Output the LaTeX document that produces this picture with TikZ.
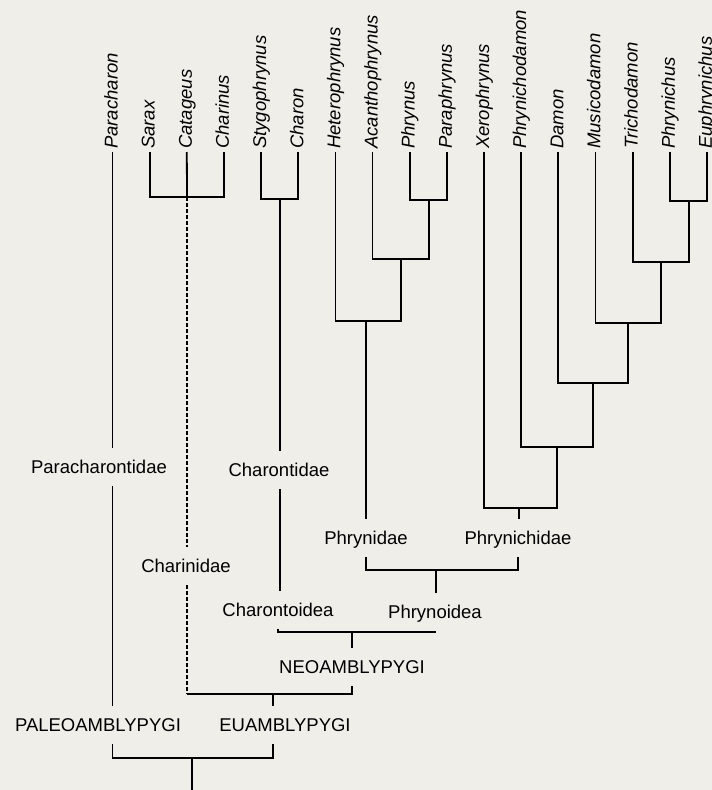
\documentclass[tikz,border=0pt]{standalone}
\usepackage{fontspec}
\setmainfont{Liberation Sans}
\usetikzlibrary{calc}
\definecolor{paper}{RGB}{239,238,233}
\tikzset{taxon/.style={rotate=90, anchor=west, inner sep=3pt, text height=13pt, text depth=3pt,
    font=\itshape\fontsize{18.5}{20}\selectfont},
  grp/.style={inner sep=0pt, text height=13.5pt, text depth=0pt, minimum height=38pt,
    font=\fontsize{18.5}{20}\selectfont},
  br/.style={line width=1.8pt},
  dsh/.style={line width=1.8pt, dash pattern=on 4pt off 2pt}}

\begin{document}
\begin{tikzpicture}[x=1pt, y=-1pt]
  \fill[paper] (0,0) rectangle (712,790);
  \useasboundingbox (0,0) rectangle (712,790);
  % genera
  \foreach \n [count=\i from 0] in {Paracharon,Sarax,Catageus,Charinus,Stygophrynus,Charon,
      Heterophrynus,Acanthophrynus,Phrynus,Paraphrynus,Xerophrynus,Phrynichodamon,
      Damon,Musicodamon,Trichodamon,Phrynichus,Euphrynichus}
    \node[taxon] (\n) at (112.5+37.15*\i,152) {\n};
  % higher groups
  \node[grp] (pcd) at (99,467) {Paracharontidae};
  \node[grp] (crd) at (186,566) {Charinidae};
  \node[grp] (ctd) at (279,470) {Charontidae};
  \node[grp] (phd) at (366,538) {Phrynidae};
  \node[grp] (pnd) at (518,538) {Phrynichidae};
  \node[grp] (cto) at (278,610) {Charontoidea};
  \node[grp] (pho) at (435,612) {Phrynoidea};
  \node[grp] (neo) at (352,667) {NEOAMBLYPYGI};
  \node[grp] (pal) at (98,725) {PALEOAMBLYPYGI};
  \node[grp] (eua) at (285,725) {EUAMBLYPYGI};
  % junctions
  \coordinate (jcr) at (187,197);
  \coordinate (jct) at (280,199);
  \coordinate (jpp) at (429,200);
  \coordinate (jac) at (401,259);
  \coordinate (jhe) at (366,321);
  \coordinate (jeu) at (689,201);
  \coordinate (jtr) at (661,262);
  \coordinate (jmu) at (628,323);
  \coordinate (jda) at (593,383);
  \coordinate (jpd) at (557,447);
  \coordinate (jxe) at (519,508);
  \coordinate (jph) at (436,570);
  \coordinate (jne) at (352,632);
  \coordinate (jea) at (273,694);
  \coordinate (jro) at (192,758);
  \coordinate (base) at (192,790);

  % Charinidae
  \draw[br] (Sarax.west) |- (jcr) -| (Charinus.west);
  \draw[br] (Catageus.west) -- (jcr);
  \draw[dsh] (jcr) -- (jcr |- crd.north);
  \draw[dsh] (jcr |- crd.south) -- (jcr |- jea);
  % Charontidae
  \draw[br] (Stygophrynus.west) |- (jct) -| (Charon.west);
  \draw[br] (jct) -- (jct |- ctd.north);
  \draw[br] (jct |- ctd.south) -- (jct |- cto.north);
  % Phrynidae
  \draw[br] (Phrynus.west) |- (jpp) -| (Paraphrynus.west);
  \draw[br] (Acanthophrynus.west) |- (jac) -| (jpp);
  \draw[br] (Heterophrynus.west) |- (jhe) -| (jac);
  \draw[br] (jhe) -- (jhe |- phd.north);
  % Phrynichidae
  \draw[br] (Phrynichus.west) |- (jeu) -| (Euphrynichus.west);
  \draw[br] (Trichodamon.west) |- (jtr) -| (jeu);
  \draw[br] (Musicodamon.west) |- (jmu) -| (jtr);
  \draw[br] (Damon.west) |- (jda) -| (jmu);
  \draw[br] (Phrynichodamon.west) |- (jpd) -| (jda);
  \draw[br] (Xerophrynus.west) |- (jxe) -| (jpd);
  \draw[br] (jxe) -- (jxe |- pnd.north);
  % Phrynoidea, Neoamblypygi
  \draw[br] (phd.south) |- (jph) -| (pnd.south);
  \draw[br] (jph) -- (jph |- pho.north);
  \draw[br] (cto.south) |- (jne) -| (pho.south);
  \draw[br] (jne) -- (neo.north);
  % Euamblypygi
  \draw[br] (neo.south) |- (jea) -- (jcr |- jea);
  \draw[br] (jea) -- (jea |- eua.north);
  % Paleoamblypygi
  \draw[br] (Paracharon.west) -- (Paracharon.west |- pcd.north);
  \draw[br] (Paracharon.west |- pcd.south) -- (Paracharon.west |- pal.north);
  % root
  \draw[br] (Paracharon.west |- pal.south) |- (jro) -| (jea |- eua.south);
  \draw[br] (jro) -- (base);
\end{tikzpicture}
\end{document}
